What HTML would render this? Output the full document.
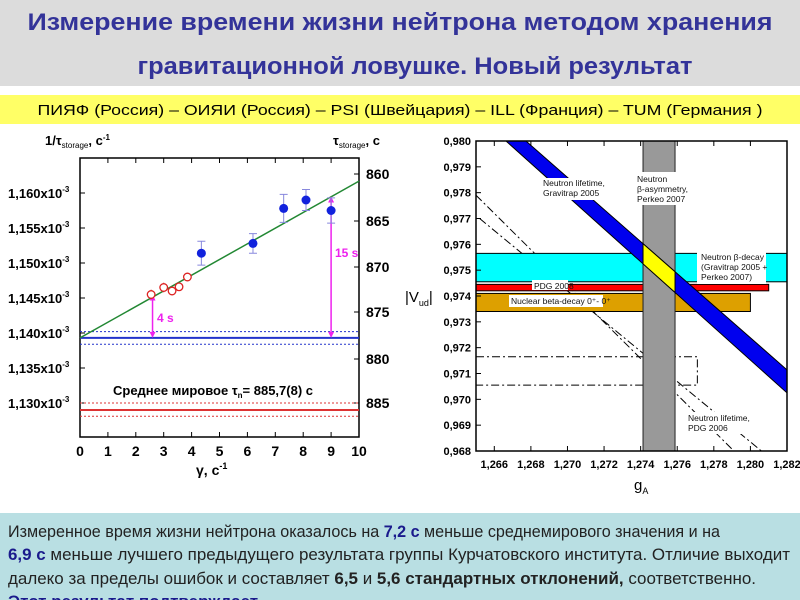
<!DOCTYPE html>
<html><head><meta charset="utf-8"><style>
body{margin:0;width:800px;height:600px;overflow:hidden;background:#fff}
svg{display:block}
text{font-family:"Liberation Sans",sans-serif}
</style></head><body>
<svg id="s" width="800" height="600" viewBox="0 0 800 600" xmlns="http://www.w3.org/2000/svg">
<rect x="0" y="0" width="800" height="86" fill="#dcdcdc"/>
<text x="400" y="30" text-anchor="middle" font-size="24" font-weight="bold" fill="#333399" textLength="745" lengthAdjust="spacingAndGlyphs">Измерение времени жизни нейтрона методом хранения</text>
<text x="415" y="74" text-anchor="middle" font-size="24" font-weight="bold" fill="#333399" textLength="555" lengthAdjust="spacingAndGlyphs">гравитационной ловушке. Новый результат</text>
<rect x="0" y="95" width="800" height="29" fill="#ffff66"/>
<text x="400" y="115" text-anchor="middle" font-size="15" fill="#000" textLength="725" lengthAdjust="spacingAndGlyphs">ПИЯФ (Россия) – ОИЯИ (Россия) – PSI (Швейцария) – ILL (Франция) – TUM (Германия )</text>
<g id="left"></g>
<g id="right"></g>
<rect x="0" y="513" width="800" height="87" fill="#b9dfe3"/>
<g font-size="17" fill="#222">
<text x="8" y="537" textLength="712" lengthAdjust="spacingAndGlyphs">Измеренное время жизни нейтрона оказалось  на <tspan font-weight="bold" fill="#1a1a8c">7,2 с</tspan> меньше среднемирового  значения и на</text>
<text x="8" y="560" textLength="782" lengthAdjust="spacingAndGlyphs"><tspan font-weight="bold" fill="#1a1a8c">6,9 с</tspan> меньше лучшего предыдущего результата группы Курчатовского института. Отличие выходит</text>
<text x="8" y="584" textLength="748" lengthAdjust="spacingAndGlyphs">далеко за пределы ошибок и составляет  <tspan font-weight="bold">6,5</tspan> и <tspan font-weight="bold">5,6 стандартных отклонений,</tspan> соответственно.</text>
<text x="8" y="607" fill="#1a1a8c" font-weight="bold">Этот результат подтверждает ...</text>
</g>
</svg>
<script>
// LEFT CHART DATA
const gammaTicks=[0,1,2,3,4,5,6,7,8,9,10];
const invTicks=[1.130,1.135,1.140,1.145,1.150,1.155,1.160];
const tauTicks=[860,865,870,875,880,885];
const redGamma=[2.55,3.0,3.3,3.55,3.85];
const redVal=[1.1455,1.1465,1.1460,1.1466,1.1480];
const redErr=[0.0007,0.0007,0.0006,0.0006,0.0005];
const blueGamma=[4.35,6.2,7.3,8.1,9.0];
const blueVal=[1.1514,1.1528,1.1578,1.1590,1.1575];
const blueErr=[0.0017,0.0014,0.0020,0.0015,0.0018];
const fitVal=[1.1393,1.1617];
const newLevel=[1.1393,1.1402,1.1384];
const worldLevel=[1.1290,1.1300,1.1281];
// RIGHT CHART DATA
const gaTicks=[1.266,1.268,1.270,1.272,1.274,1.276,1.278,1.280,1.282];
const vudTicks=[0.968,0.969,0.970,0.971,0.972,0.973,0.974,0.975,0.976,0.977,0.978,0.979,0.980];
const blueBandTop=[[1.26773,0.9800],[1.2820,0.97114]];
const blueBandBot=[[1.26664,0.9800],[1.2820,0.97025]];
const grayBand=[1.27413,1.27588];
const cyanBand=[0.97455,0.97565];
const redBand=[0.97420,0.97445,1.2810];
const orangeBand=[0.97340,0.97410,1.2800];
const dashLine1=[[1.2650,0.9779],[1.2791,0.9680]];
const dashLine2=[[1.2652,0.9770],[1.2806,0.9680]];
const dashBox=[0.97165,0.97055,1.2771];

const NS="http://www.w3.org/2000/svg";
function mk(par,tag,at,txt){const e=document.createElementNS(NS,tag);for(const k in at)e.setAttribute(k,at[k]);if(txt!==undefined)e.textContent=txt;par.appendChild(e);return e;}
const L={x0:80,x1:359,y0:158,y1:437};
const lx=g=>L.x0+g*(L.x1-L.x0)/10;
const ly=v=>403+(v-1.130)*(193-403)/0.030;
const tauPos={860:174,865:221,870:267,875:312,880:359,885:403};
const ty=t=>{const ks=[860,865,870,875,880,885];for(let i=0;i<5;i++){if(t<=ks[i+1]){const a=ks[i],b=ks[i+1];return tauPos[a]+(t-a)/(b-a)*(tauPos[b]-tauPos[a]);}}return tauPos[885];};
const lg=document.getElementById('left');
let e;
e=mk(lg,'rect',{x:L.x0,y:L.y0,width:L.x1-L.x0,height:L.y1-L.y0,fill:'#fff',stroke:'#000','stroke-width':1.5});

gammaTicks.forEach(g=>{
  mk(lg,'line',{x1:lx(g),x2:lx(g),y1:L.y1,y2:L.y1-5,stroke:'#000'});
  mk(lg,'line',{x1:lx(g),x2:lx(g),y1:L.y0,y2:L.y0+5,stroke:'#000'});
  e=mk(lg,'text',{x:lx(g),y:L.y1+19,'text-anchor':'middle','font-size':14,'font-weight':'bold'},String(g));
  
});
invTicks.forEach(v=>{
  mk(lg,'line',{x1:L.x0,x2:L.x0+5,y1:ly(v),y2:ly(v),stroke:'#000'});
  e=mk(lg,'text',{x:8,y:ly(v)+5,'font-size':13,'font-weight':'bold'});
  e.innerHTML=v.toFixed(3).replace('.',',')+'x10<tspan dy="-6" font-size="8">-3</tspan>';
  
});
tauTicks.forEach(t=>{
  mk(lg,'line',{x1:L.x1,x2:L.x1-5,y1:ty(t),y2:ty(t),stroke:'#000'});
  e=mk(lg,'text',{x:366,y:ty(t)+5,'font-size':14,'font-weight':'bold'},String(t));
  
});
e=mk(lg,'text',{x:45,y:145,'font-size':13,'font-weight':'bold'});
e.innerHTML='1/τ<tspan font-size="8" dy="3" font-weight="normal">storage</tspan><tspan dy="-3">,  c</tspan><tspan dy="-5" font-size="8">-1</tspan>';

e=mk(lg,'text',{x:333,y:145,'font-size':13,'font-weight':'bold'});
e.innerHTML='τ<tspan font-size="8" dy="3" font-weight="normal">storage</tspan><tspan dy="-3">,  c</tspan>';

e=mk(lg,'text',{x:196,y:475,'font-size':14,'font-weight':'bold'});
e.innerHTML='γ,  c<tspan dy="-6" font-size="9">-1</tspan>';

[[newLevel,'#2233cc','new-level'],[worldLevel,'#dd3333','world-average-level']].forEach(([lv,c,n])=>{
  e=mk(lg,'line',{x1:L.x0,x2:L.x1,y1:ly(lv[0]),y2:ly(lv[0]),stroke:c,'stroke-width':2});
  
  [1,2].forEach(i=>{e=mk(lg,'line',{x1:L.x0,x2:L.x1,y1:ly(lv[i]),y2:ly(lv[i]),stroke:c,'stroke-width':1,'stroke-dasharray':'2,2'});
  });
});
e=mk(lg,'line',{x1:lx(0),x2:lx(10),y1:ly(fitVal[0]),y2:ly(fitVal[1]),stroke:'#228833','stroke-width':1.5});

function arrow(g,v1,v2,lab,tx,tyy){
  const x=lx(g),a=ly(v1),b=ly(v2);
  e=mk(lg,'line',{x1:x,x2:x,y1:b+4,y2:a-4,stroke:'#ee22ee','stroke-width':1.5});
  
  mk(lg,'path',{d:`M${x-3},${b+6}L${x},${b}L${x+3},${b+6}Z M${x-3},${a-6}L${x},${a}L${x+3},${a-6}Z`,fill:'#ee22ee'});
  e=mk(lg,'text',{x:tx,y:tyy,'font-size':12,'font-weight':'bold',fill:'#ee22ee'},lab);
  
}
arrow(2.6,newLevel[0],redVal[0],'4 s',157,322);
arrow(9.0,newLevel[0],1.1595,'15 s',335,257);
redGamma.forEach((g,i)=>{
  const x=lx(g),y=ly(redVal[i]);
  mk(lg,'line',{x1:x,x2:x,y1:ly(redVal[i]+redErr[i]),y2:ly(redVal[i]-redErr[i]),stroke:'#dd6666'});
  e=mk(lg,'circle',{cx:x,cy:y,r:3.8,fill:'#fff',stroke:'#dd2222','stroke-width':1.3});
  
});
blueGamma.forEach((g,i)=>{
  const x=lx(g),y1=ly(blueVal[i]+blueErr[i]),y2=ly(blueVal[i]-blueErr[i]);
  mk(lg,'path',{d:`M${x},${y1}V${y2}M${x-4},${y1}H${x+4}M${x-4},${y2}H${x+4}`,stroke:'#8888dd',fill:'none'});
  e=mk(lg,'circle',{cx:x,cy:ly(blueVal[i]),r:4.5,fill:'#1122dd'});
  
});
e=mk(lg,'text',{x:113,y:395,'font-size':13,'font-weight':'bold'});
e.innerHTML='Среднее мировое τ<tspan font-size="8" dy="3">n</tspan><tspan dy="-3">= 885,7(8) с</tspan>';


// RIGHT CHART
const R={x0:476,x1:787,y0:141,y1:451};
const rx=g=>R.x0+(g-1.265)*(R.x1-R.x0)/0.017;
const ry=v=>R.y1-(v-0.968)*(R.y1-R.y0)/0.012;
const rg=document.getElementById('right');
const cp=mk(rg,'clipPath',{id:'rc'});
mk(cp,'rect',{x:R.x0,y:R.y0,width:R.x1-R.x0,height:R.y1-R.y0});
const c=mk(rg,'g',{'clip-path':'url(#rc)'});
[dashLine1,dashLine2].forEach(dl=>{e=mk(c,'line',{x1:rx(dl[0][0]),y1:ry(dl[0][1]),x2:rx(dl[1][0]),y2:ry(dl[1][1]),stroke:'#000','stroke-dasharray':'8,3,2,3'});
});
e=mk(c,'path',{d:`M${R.x0},${ry(dashBox[0])}H${rx(dashBox[2])}V${ry(dashBox[1])}H${R.x0}`,fill:'none',stroke:'#000','stroke-dasharray':'8,3,2,3'});

e=mk(c,'rect',{x:R.x0-2,y:ry(cyanBand[1]),width:R.x1-R.x0+2,height:ry(cyanBand[0])-ry(cyanBand[1]),fill:'#00ffff',stroke:'#000'});

e=mk(c,'rect',{x:R.x0-2,y:ry(redBand[1]),width:rx(redBand[2])-R.x0+2,height:ry(redBand[0])-ry(redBand[1]),fill:'#ff0000',stroke:'#000'});

e=mk(c,'rect',{x:R.x0-2,y:ry(orangeBand[1]),width:rx(orangeBand[2])-R.x0+2,height:ry(orangeBand[0])-ry(orangeBand[1]),fill:'#dda000',stroke:'#000'});

e=mk(c,'rect',{x:rx(grayBand[0]),y:R.y0-2,width:rx(grayBand[1])-rx(grayBand[0]),height:R.y1-R.y0+4,fill:'#999999',stroke:'#222'});

const P=(p)=>rx(p[0])+','+ry(p[1]);
const pts=blueBandTop.map(P).concat(blueBandBot.slice().reverse().map(P));
e=mk(c,'polygon',{points:pts.join(' '),fill:'#0000ee',stroke:'#000'});

function lineAt(ln,g){const a=ln[0],b=ln[1];return a[1]+(g-a[0])*(b[1]-a[1])/(b[0]-a[0]);}
const [ga,gb]=grayBand;
e=mk(c,'polygon',{points:[P([ga,lineAt(blueBandTop,ga)]),P([gb,lineAt(blueBandTop,gb)]),P([gb,lineAt(blueBandBot,gb)]),P([ga,lineAt(blueBandBot,ga)])].join(' '),fill:'#ffff00',stroke:'#000'});

e=mk(rg,'rect',{x:R.x0,y:R.y0,width:R.x1-R.x0,height:R.y1-R.y0,fill:'none',stroke:'#000','stroke-width':1.5});

gaTicks.forEach(g=>{
  mk(rg,'line',{x1:rx(g),x2:rx(g),y1:R.y1,y2:R.y1-5,stroke:'#000'});
  mk(rg,'line',{x1:rx(g),x2:rx(g),y1:R.y0,y2:R.y0+5,stroke:'#000'});
  e=mk(rg,'text',{x:rx(g),y:R.y1+17,'text-anchor':'middle','font-size':11,'font-weight':'bold'},g.toFixed(3).replace('.',','));
  
});
vudTicks.forEach(v=>{
  mk(rg,'line',{x1:R.x0,x2:R.x0+5,y1:ry(v),y2:ry(v),stroke:'#000'});
  e=mk(rg,'text',{x:R.x0-5,y:ry(v)+4,'text-anchor':'end','font-size':11,'font-weight':'bold'},v.toFixed(3).replace('.',','));
  
});
e=mk(rg,'text',{x:405,y:302,'font-size':15});e.innerHTML='|V<tspan font-size="9" dy="4">ud</tspan><tspan dy="-4">|</tspan>';

e=mk(rg,'text',{x:634,y:490,'font-size':15});e.innerHTML='g<tspan font-size="9" dy="4">A</tspan>';

mk(rg,'rect',{x:541,y:178,width:60,height:22,fill:'#fff'});
mk(rg,'rect',{x:635,y:172,width:48,height:33,fill:'#fff'});
mk(rg,'rect',{x:697,y:252,width:69,height:32,fill:'#fff'});
mk(rg,'rect',{x:532,y:280,width:36,height:10,fill:'#fff'});
mk(rg,'rect',{x:509,y:295,width:94,height:12,fill:'#fff'});
mk(rg,'rect',{x:686,y:412,width:70,height:22,fill:'#fff'});
const labs=[[543,186,'Neutron lifetime,'],[543,196,'Gravitrap 2005'],[637,182,'Neutron'],[637,192,'β-asymmetry,'],[637,202,'Perkeo 2007'],
[701,260,'Neutron β-decay'],[701,270,'(Gravitrap 2005 +'],[701,280,'Perkeo 2007)'],[534,289,'PDG 2008'],[511,304,'Nuclear beta-decay 0⁺- 0⁺'],[688,421,'Neutron lifetime,'],[688,431,'PDG 2006']];
labs.forEach(l=>{e=mk(rg,'text',{x:l[0],y:l[1],'font-size':8.5,fill:'#111'},l[2]);
});
</script>
</body></html>
